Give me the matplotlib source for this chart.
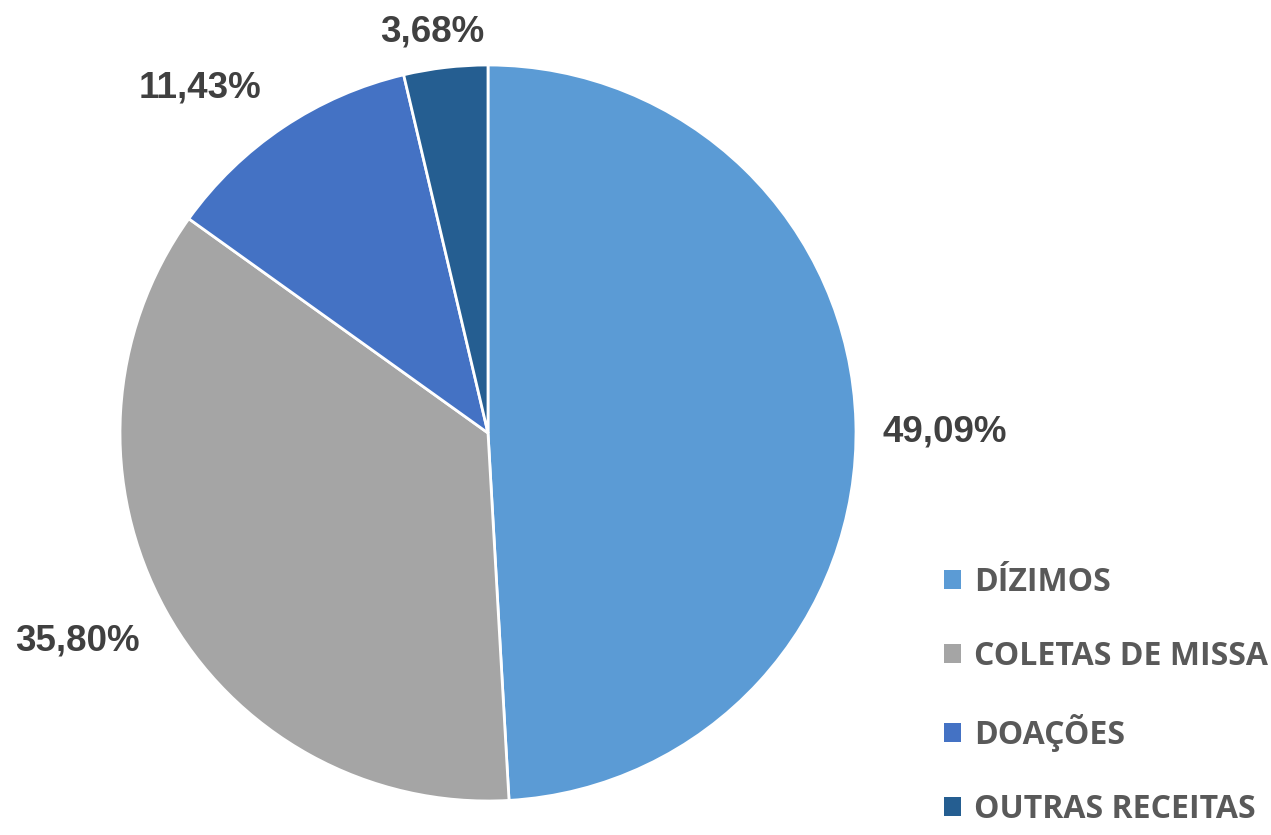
import numpy as np
import matplotlib.pyplot as plt
from matplotlib.patches import Patch

categories = ['DÍZIMOS', 'COLETAS DE MISSA', 'DOAÇÕES', 'OUTRAS RECEITAS']
values = [49.09, 35.80, 11.43, 3.68]
colors = ['#5B9BD5', '#A5A5A5', '#4472C4', '#255E91']
# label placement: distance from centre (in radii) and angle nudge (deg)
label_dist = [1.24, 1.25, 1.22, 1.10]
label_nudge = [-1.5, -2.0, 6.0, 1.3]

fig = plt.figure(figsize=(12.71, 8.35), dpi=100)
ax = fig.add_axes([0, 0, 1, 1])

cx, cy, r = 488, 402, 368
wedges, _ = ax.pie(values, colors=colors, startangle=90, counterclock=False,
                   center=(cx, cy), radius=r, frame=True,
                   wedgeprops=dict(edgecolor='white', linewidth=2))
ax.set_xlim(0, 1271)
ax.set_ylim(0, 835)
ax.axis('off')

for w, v, d, n in zip(wedges, values, label_dist, label_nudge):
    ang = np.deg2rad((w.theta1 + w.theta2) / 2 + n)
    x = cx + d * r * np.cos(ang)
    y = cy + d * r * np.sin(ang)
    ax.text(x, y, f'{v:.2f}%'.replace('.', ','), ha='center', va='center',
            fontsize=26.5, fontweight='bold', color='#404040', family='Liberation Sans')

handles = [Patch(facecolor=c, edgecolor='none') for c in colors]
leg = ax.legend(handles, categories, loc='upper left', bbox_to_anchor=(0.733, 0.338),
                frameon=False, handlelength=0.53, handleheight=0.53, handletextpad=0.4,
                labelspacing=1.29, borderaxespad=0,
                prop={'family': 'Open Sans', 'weight': 'bold', 'size': 23})
for t in leg.get_texts():
    t.set_color('#595959')

fig.savefig('out.png', dpi=100)
